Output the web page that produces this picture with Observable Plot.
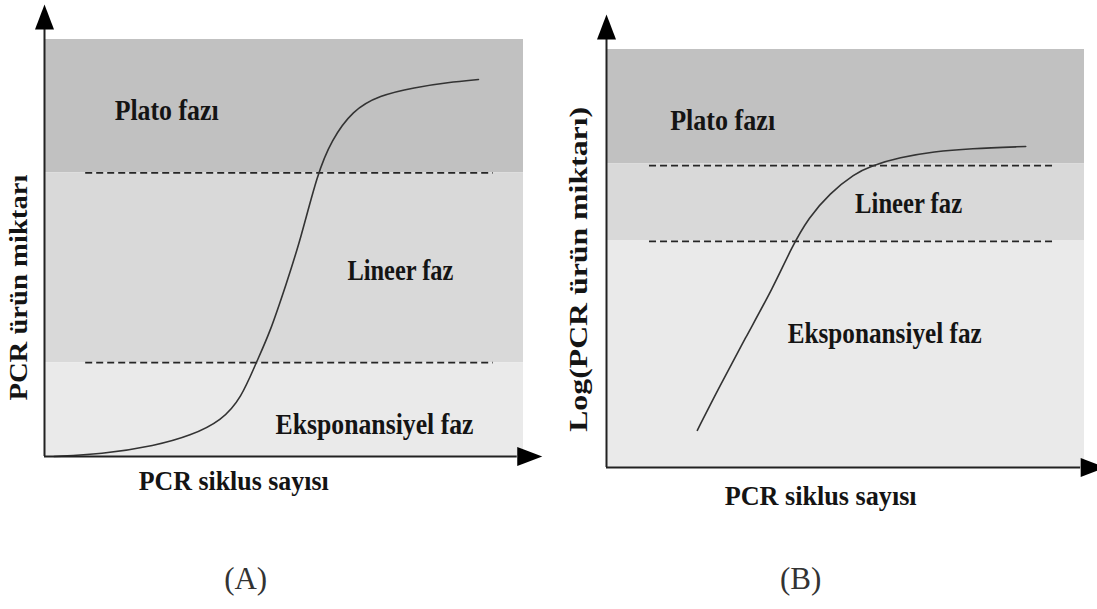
<!DOCTYPE html>
<html>
<head>
<meta charset="utf-8">
<script src="https://cdn.jsdelivr.net/npm/d3@7"></script>
<script src="https://cdn.jsdelivr.net/npm/@observablehq/plot@0.6"></script>
<style>
  html, body { margin: 0; padding: 0; background: #ffffff; }
  #fig { position: relative; width: 1097px; height: 609px; overflow: hidden; background: #fff; }
  #fig svg { position: absolute; top: 0; }
</style>
</head>
<body>
<div id="fig"></div>
<script>
// ---------- data ----------
const phases = ["Plato fazı", "Lineer faz", "Eksponansiyel faz"];
const xTitle = "PCR siklus sayısı";
const yTitleA = "PCR ürün miktarı";
const yTitleB = "Log(PCR ürün miktarı)";
const panelTags = ["(A)", "(B)"];

// Panel A: product amount vs cycle (sigmoid)
const cycleA  = [2, 11.7, 23.2, 30.5, 37.0, 41.1, 44.1, 47.0, 50.5, 53.4, 57.0, 59.9, 64.3, 69.9, 77.2, 84.3, 90.6];
const amountA = [0, 0.5, 2.6, 5.0, 8.6, 14.1, 22.3, 29.5, 41.5, 51.8, 67.9, 75.8, 83.0, 86.6, 88.5, 89.7, 90.4];
const bandTopA    = [100, 68, 22.5];
const bandBottomA = [68, 22.5, 0];
const thresholdsA = [68, 22.5];
const dashSpanA   = [8.6, 93.7];
const labelXA = [25.5, 74.3, 68.9];
const labelYA = [83.0, 44.6, 7.7];
const titlePosA = {x: 39.5, y: -6.0, yx: -5.4, yy: 40.5, tagX: 42.0, tagY: -29.3};

// Panel B: log(product amount) vs cycle
const cycleB  = [19.0, 23.2, 29.1, 34.9, 38.7, 42.3, 46.7, 51.9, 55.4, 61.3, 68.6, 75.9, 87.7];
const amountB = [8.9, 18.4, 31.1, 43.1, 52.6, 59.8, 65.6, 70.3, 72.2, 74.2, 75.6, 76.3, 76.8];
const bandTopB    = [100, 72.7, 54.3];
const bandBottomB = [72.7, 54.3, 0];
const thresholdsB = [72.2, 54.1];
const dashSpanB   = [9.0, 94.1];
const labelXB = [24.3, 63.2, 58.2];
const labelYB = [83.0, 63.2, 32.1];
const titlePosB = {x: 44.8, y: -6.9, yx: -5.9, yy: 47.4, tagX: 40.6, tagY: -26.6};

// axis extents (arrow bases) in data units
const axisEndA = {x: 98.7, y: 102.4};
const axisEndB = {x: 99.2, y: 102.4};

// ---------- styling ----------
const bandColors = ["#c1c1c1", "#d9d9d9", "#eaeaea"];
const ink = "#141414";
const serif = "Liberation Serif, DejaVu Serif, serif";

const arrowHead = {
  draw(ctx) {
    ctx.moveTo(0, -25);
    ctx.lineTo(9.5, 0);
    ctx.lineTo(-9.5, 0);
    ctx.closePath();
  }
};

function panel(cfg) {
  const curve = cfg.cycle.map((c, i) => ({c, v: cfg.amount[i]}));
  const bands = phases.map((p, i) => ({p, y1: cfg.bottom[i], y2: cfg.top[i]}));
  const labels = phases.map((p, i) => ({p, x: cfg.lx[i], y: cfg.ly[i]}));
  const heads = [
    {x: 0, y: cfg.axisEnd.y, r: 0},
    {x: cfg.axisEnd.x, y: 0, r: 90}
  ];
  const svg = Plot.plot({
    width: cfg.width,
    height: 609,
    marginLeft: cfg.ml,
    marginRight: cfg.mr,
    marginTop: cfg.mt,
    marginBottom: cfg.mb,
    x: {domain: [0, 100], axis: null},
    y: {domain: [0, 100], axis: null},
    color: {domain: phases, range: bandColors},
    style: {background: "#ffffff", overflow: "visible"},
    marks: [
      Plot.rect(bands, {x1: 0, x2: 100, y1: "y1", y2: "y2", fill: "p"}),
      Plot.ruleY(cfg.thresholds, {x1: cfg.dash[0], x2: cfg.dash[1], stroke: "#262626", strokeWidth: 1.8, strokeDasharray: "7,4"}),
      Plot.line(curve, {x: "c", y: "v", curve: "basis", stroke: "#333333", strokeWidth: 1.6}),
      Plot.ruleX([0], {y1: 0, y2: cfg.axisEnd.y, stroke: "#222", strokeWidth: 2}),
      Plot.ruleY([0], {x1: 0, x2: cfg.axisEnd.x, stroke: "#222", strokeWidth: 2}),
      Plot.dot(heads, {x: "x", y: "y", rotate: "r", symbol: arrowHead, fill: "#000", stroke: "none"}),
      Plot.text(labels, {x: "x", y: "y", text: "p", fontFamily: serif, fontWeight: "bold", fontSize: 30, fill: ink}),
      Plot.text([xTitle], {x: cfg.tp.x, y: cfg.tp.y, text: d => d, fontFamily: serif, fontWeight: "bold", fontSize: 27, fill: ink}),
      Plot.text([cfg.yTitle], {x: cfg.tp.yx, y: cfg.tp.yy, text: d => d, rotate: -90, fontFamily: serif, fontWeight: "bold", fontSize: 26, fill: ink}),
      Plot.text([cfg.tag], {x: cfg.tp.tagX, y: cfg.tp.tagY, text: d => d, fontFamily: serif, fontSize: 31, fill: "#333"})
    ]
  });
  svg.querySelectorAll("text").forEach(t => {
    const w = cfg.fit[t.textContent];
    if (w) {
      t.setAttribute("textLength", w);
      t.setAttribute("lengthAdjust", "spacingAndGlyphs");
    }
  });
  svg.style.left = cfg.left + "px";
  return svg;
}

const fig = document.getElementById("fig");
fig.appendChild(panel({
  width: 548, left: 0, ml: 44, mr: 25, mt: 39, mb: 153,
  cycle: cycleA, amount: amountA, top: bandTopA, bottom: bandBottomA,
  thresholds: thresholdsA, dash: dashSpanA, lx: labelXA, ly: labelYA,
  axisEnd: axisEndA, tp: titlePosA, yTitle: yTitleA, tag: panelTags[0],
  fit: {"Plato fazı": 104, "Lineer faz": 106, "Eksponansiyel faz": 198, "PCR siklus sayısı": 190, "PCR ürün miktarı": 226}
}));
fig.appendChild(panel({
  width: 549, left: 548, ml: 58, mr: 13, mt: 49, mb: 142,
  cycle: cycleB, amount: amountB, top: bandTopB, bottom: bandBottomB,
  thresholds: thresholdsB, dash: dashSpanB, lx: labelXB, ly: labelYB,
  axisEnd: axisEndB, tp: titlePosB, yTitle: yTitleB, tag: panelTags[1],
  fit: {"Plato fazı": 105, "Lineer faz": 107, "Eksponansiyel faz": 194, "PCR siklus sayısı": 192, "Log(PCR ürün miktarı)": 325}
}));
</script>
</body>
</html>
